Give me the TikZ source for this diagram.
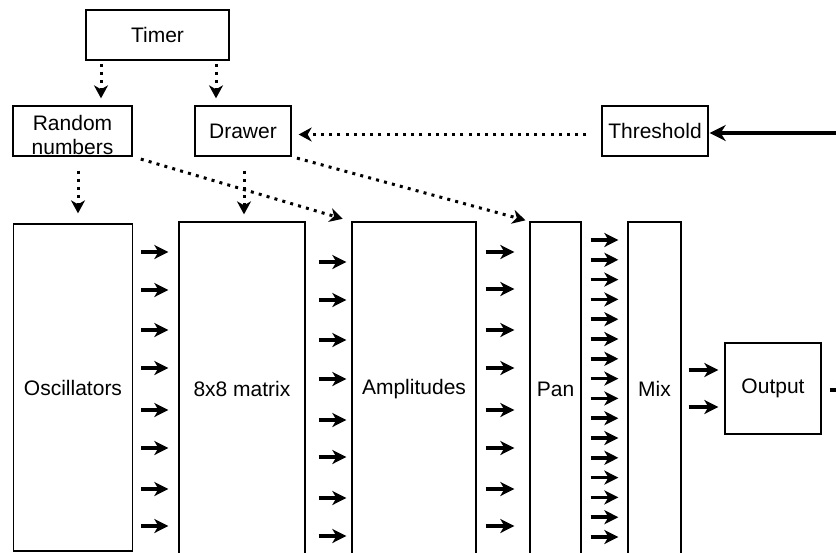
\documentclass[tikz,border=0pt]{standalone}
\usepackage{fontspec}
\setmainfont{Liberation Sans}
\usetikzlibrary{arrows.meta}
\begin{document}
\begin{tikzpicture}[x=1pt,y=-1pt,
  box/.style={draw, line width=1.3pt, rectangle, inner sep=0pt, font=\fontsize{21}{24}\selectfont, align=center},
  sarrow/.style={line width=3.7pt, -{Stealth[length=14pt,width=14pt,inset=4pt]}},
  darrow/.style={line width=3pt, dash pattern=on 3pt off 5.2pt, -{Stealth[length=13pt,width=14pt,inset=4pt]}},
  inarrow/.style={line width=4.2pt, -{Stealth[length=16pt,width=16pt,inset=5pt]}},
]
\clip (0,0) rectangle (836,552);
% boxes
\node[box, minimum width=143pt, minimum height=50pt] (timer) at (157.5,35) {Timer};
\node[box, minimum width=119pt, minimum height=50pt] (rand) at (72.5,131) {\rule{0pt}{23pt}Random\\numbers};
\node[box, minimum width=96pt, minimum height=50pt] (drawer) at (243,131) {Drawer};
\node[box, minimum width=106pt, minimum height=50pt] (thresh) at (655,131) {Threshold};
\node[box, minimum width=119pt, minimum height=327pt] (osc) at (73,387.5) {Oscillators};
\node[box, minimum width=126pt, minimum height=334pt] (matrix) at (242,389) {8x8 matrix};
\node[box, minimum width=124pt, minimum height=334pt] (ampl) at (414,389) {Amplitudes};
\node[box, minimum width=51pt, minimum height=334pt] (pan) at (555.5,389) {Pan};
\node[box, minimum width=53pt, minimum height=334pt] (mix) at (654.5,389) {Mix};
\node[box, minimum width=96pt, minimum height=91pt] (output) at (773,388.5) {Output};
\coordinate (thin) at (850,133);
\coordinate (outr) at (850,390);
% dotted control arrows
\draw[darrow, shorten <=3pt, shorten >=7pt] ([xshift=-56.5pt]timer.south) -- ([xshift=-56.5pt]timer.south |- rand.north);
\draw[darrow, shorten <=3pt, shorten >=7pt] ([xshift=58.5pt]timer.south) -- ([xshift=58.5pt]timer.south |- drawer.north);
\draw[darrow, shorten <=14pt, shorten >=10pt] ([xshift=5.5pt]rand.south) -- ([xshift=5.5pt]rand.south |- osc.north);
\draw[darrow, shorten <=14pt, shorten >=7pt] ([xshift=1pt]drawer.south) -- ([xshift=1pt]drawer.south |- matrix.north);
\draw[darrow, shorten <=8.5pt, shorten >=9pt] (rand.south east) -- (ampl.north west);
\draw[darrow, shorten <=5.5pt, shorten >=4pt] (drawer.south east) -- (pan.north west);
\draw[darrow, shorten <=15pt, shorten >=7pt] ([yshift=-3.5pt]thresh.west) -- ([yshift=-3.5pt]drawer.east);
% input to threshold
\draw[inarrow, shorten >=1pt] (thin) -- (thresh.east |- thin);
% signal arrows
\foreach \y in {252,290,330,368,410,448,489,526}
  \draw[sarrow, shorten <=8pt, shorten >=10pt] (osc.east |- 0,\y) -- (matrix.west |- 0,\y);
\foreach \y in {262,300,340,379,420,457,498,536}
  \draw[sarrow, shorten <=13pt, shorten >=5pt] (matrix.east |- 0,\y) -- (ampl.west |- 0,\y);
\foreach \y in {252,289,330,368,410,448,489,526}
  \draw[sarrow, shorten <=9pt, shorten >=15pt] (ampl.east |- 0,\y) -- (pan.west |- 0,\y);
\foreach \i in {0,...,15}
  \draw[sarrow, shorten <=9pt, shorten >=9pt] (pan.east |- 0,{240+19.8*\i}) -- (mix.west |- 0,{240+19.8*\i});
\foreach \y in {370,407}
  \draw[sarrow, shorten <=7pt, shorten >=6pt] (mix.east |- 0,\y) -- (output.west |- 0,\y);
\draw[sarrow, shorten <=8pt] (output.east |- outr) -- (outr);
\end{tikzpicture}
\end{document}
